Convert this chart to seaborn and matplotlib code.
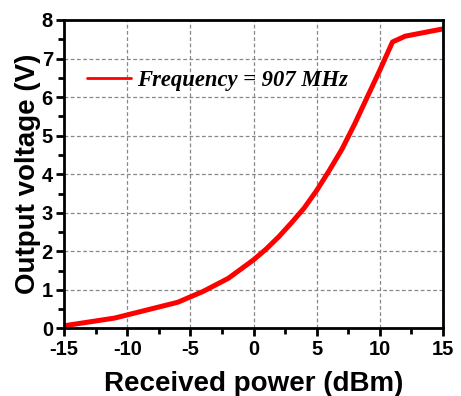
import matplotlib
matplotlib.use("Agg")
import matplotlib.pyplot as plt
import seaborn as sns
import pandas as pd
from matplotlib.ticker import MultipleLocator
from matplotlib.lines import Line2D

power_dbm = [-15, -11, -6, -4, -2, 0, 1, 2, 3, 4, 5, 6, 7, 8, 9, 10, 11, 12, 15]
voltage_v = [0.07, 0.27, 0.68, 0.96, 1.3, 1.78, 2.06, 2.38, 2.74, 3.12, 3.58, 4.1, 4.65, 5.3, 6.0, 6.7, 7.43, 7.58, 7.77]
series_label = "Frequency = 907 MHz"

df = pd.DataFrame({"power": power_dbm, "voltage": voltage_v})

sns.set_style("white")
plt.rcParams['font.family'] = ['Liberation Sans', 'DejaVu Sans']
plt.rcParams['axes.unicode_minus'] = False
plt.rcParams['text.color'] = 'black'
plt.rcParams['axes.labelcolor'] = 'black'
plt.rcParams['xtick.color'] = 'black'
plt.rcParams['ytick.color'] = 'black'

fig = plt.figure(figsize=(4.61, 3.96), dpi=100)
ax = fig.add_axes([0.139, 0.1705, 0.822, 0.779])

sns.lineplot(data=df, x="power", y="voltage", ax=ax, color="#ff0000", linewidth=3.6, legend=False)

ax.set_xlim(-15, 15)
ax.set_ylim(0, 8)
ax.xaxis.set_major_locator(MultipleLocator(5))
ax.xaxis.set_minor_locator(MultipleLocator(2.5))
ax.yaxis.set_major_locator(MultipleLocator(1))
ax.yaxis.set_minor_locator(MultipleLocator(0.5))

ax.grid(True, which="major", linestyle=(0, (3, 2)), color="#888888", linewidth=0.9)
ax.set_axisbelow(True)

for s in ax.spines.values():
    s.set_linewidth(2)
    s.set_color("black")

ax.tick_params(which="major", direction="out", length=6, width=2, labelsize=14.5,
               bottom=True, left=True, top=False, right=False, pad=2, colors="black")
ax.tick_params(which="minor", direction="out", length=4, width=2,
               bottom=True, left=True, top=False, right=False, colors="black")
for lab in ax.get_xticklabels() + ax.get_yticklabels():
    lab.set_fontweight("bold")

ax.set_xlabel("Received power (dBm)", fontsize=20, fontweight="bold", labelpad=9, color="black")
ax.set_ylabel("Output voltage (V)", fontsize=20, fontweight="bold", labelpad=0.5, color="black")

handle = Line2D([0], [0], color="#ff0000", linewidth=2)
leg = ax.legend([handle], [series_label], loc="upper left", bbox_to_anchor=(0.007, 0.905),
                frameon=False, handlelength=1.95, handletextpad=0.25,
                prop={"family": "Liberation Serif", "style": "italic", "weight": "bold", "size": 16.3})
for t in leg.get_texts():
    t.set_color("black")

fig.savefig("out.png", dpi=100)
